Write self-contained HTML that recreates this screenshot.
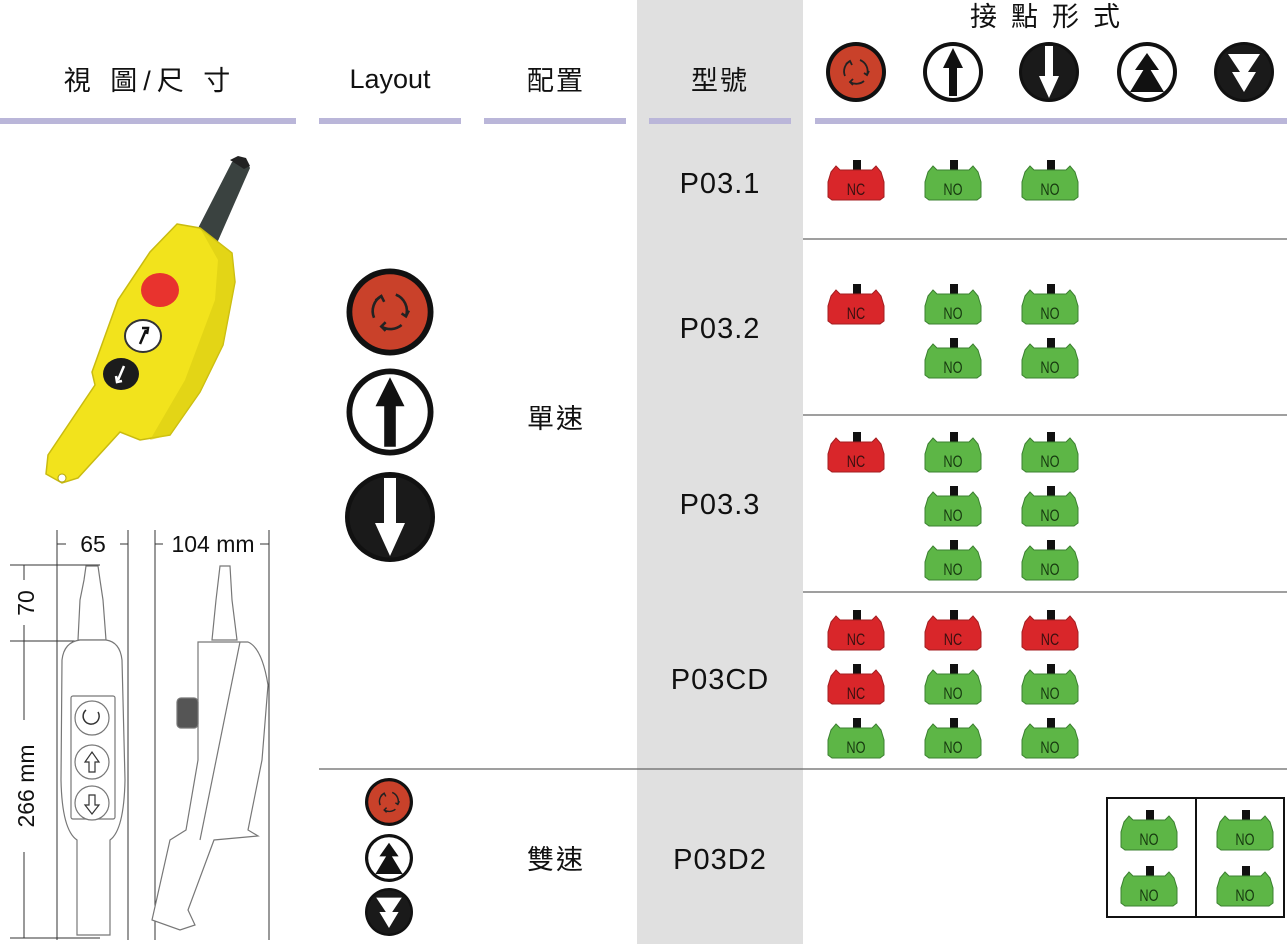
<!DOCTYPE html>
<html><head><meta charset="utf-8"><style>
html,body{margin:0;padding:0;background:#fff;}
svg{display:block;}
.t{font-family:"Liberation Sans","Noto Sans CJK TC",sans-serif;fill:#111;}
</style></head><body>
<svg width="1287" height="944" viewBox="0 0 1287 944" xmlns="http://www.w3.org/2000/svg">
<defs>
<g id="nc">
 <rect x="25" y="0" width="8" height="10" fill="#111"/>
 <path d="M3,12 L8,6 L12,10 L44,10 L48,6 L53,12 L56,22 L56,37 L52,40 L4,40 L0,37 L0,22 Z" fill="#d9262a" stroke="#a31d20" stroke-width="1"/>
 <text x="28" y="35" text-anchor="middle" font-family="Liberation Sans,sans-serif" font-size="17" fill="#3a1010" transform="translate(7 0) scale(0.75 1)">NC</text>
</g>
<g id="no">
 <rect x="25" y="0" width="8" height="10" fill="#111"/>
 <path d="M3,12 L8,6 L12,10 L44,10 L48,6 L53,12 L56,22 L56,37 L52,40 L4,40 L0,37 L0,22 Z" fill="#5db646" stroke="#3b8030" stroke-width="1"/>
 <text x="28" y="35" text-anchor="middle" font-family="Liberation Sans,sans-serif" font-size="17" fill="#173a10" transform="translate(7 0) scale(0.75 1)">NO</text>
</g>
<g id="ic-rot">
 <circle r="30" fill="#111"/><circle r="26" fill="#c9412a"/>
 <g stroke="#222" stroke-width="1.8" fill="none">
 <path d="M-6,-11 A12,12 0 0 0 -11,4"/><path d="M-10,-8 L-6,-11 L-4,-7"/>
 <path d="M4,-12 A12,12 0 0 1 11,3"/><path d="M8,1 L11,3 L13,-1"/>
 <path d="M8,9 A12,12 0 0 1 -6,10"/><path d="M-3,7 L-6,10 L-3,13"/>
 </g>
</g>
<g id="ic-up">
 <circle r="30" fill="#111"/><circle r="26" fill="#fff"/>
 <path d="M-4,24 L-4,-4 L-10,-4 L0,-24 L10,-4 L4,-4 L4,24 Z" fill="#111"/>
</g>
<g id="ic-dn">
 <circle r="30" fill="#111"/><circle r="27" fill="#1a1a1a"/>
 <path d="M-4,-26 L-4,4 L-10,4 L0,26 L10,4 L4,4 L4,-26 Z" fill="#fff"/>
</g>
<g id="ic-uu">
 <circle r="30" fill="#111"/><circle r="26" fill="#fff"/>
 <path d="M0,-19 L-12,-2 L12,-2 Z M0,-8 L-17,20 L17,20 Z" fill="#111"/>
</g>
<g id="ic-dd">
 <circle r="30" fill="#111"/><circle r="27" fill="#1a1a1a"/>
 <path d="M-16,-18 L16,-18 L0,6 Z M-12,0 L12,0 L0,20 Z" fill="#fff"/>
</g>
</defs>

<rect x="637" y="0" width="166" height="944" fill="#e0e0e0"/>

<g fill="#bab6d9">
<rect x="0" y="118" width="296" height="6"/>
<rect x="319" y="118" width="142" height="6"/>
<rect x="484" y="118" width="142" height="6"/>
<rect x="649" y="118" width="142" height="6"/>
<rect x="815" y="118" width="472" height="6"/>
</g>

<text class="t" x="150" y="90" text-anchor="middle" font-size="27" letter-spacing="6">視 圖/尺 寸</text>
<text class="t" x="390" y="88" text-anchor="middle" font-size="27">Layout</text>
<text class="t" x="556" y="90" text-anchor="middle" font-size="27" letter-spacing="2">配置</text>
<text class="t" x="720" y="90" text-anchor="middle" font-size="27" letter-spacing="2">型號</text>
<text class="t" x="1052" y="26" text-anchor="middle" font-size="27" letter-spacing="14">接點形式</text>

<use href="#ic-rot" x="856" y="72"/>
<use href="#ic-up" x="953" y="72"/>
<use href="#ic-dn" x="1049" y="72"/>
<use href="#ic-uu" x="1147" y="72"/>
<use href="#ic-dd" x="1244" y="72"/>

<g stroke="#666" stroke-width="1.3">
<line x1="803" y1="239" x2="1287" y2="239"/>
<line x1="803" y1="415" x2="1287" y2="415"/>
<line x1="803" y1="592" x2="1287" y2="592"/>
<line x1="319" y1="769" x2="1287" y2="769"/>
</g>

<g class="t" font-size="29" text-anchor="middle" letter-spacing="1">
<text x="720" y="193">P03.1</text>
<text x="720" y="338">P03.2</text>
<text x="720" y="514">P03.3</text>
<text x="720" y="689">P03CD</text>
<text x="720" y="869">P03D2</text>
</g>
<text class="t" x="556" y="428" text-anchor="middle" font-size="27" letter-spacing="2">單速</text>
<text class="t" x="556" y="869" text-anchor="middle" font-size="27" letter-spacing="2">雙速</text>

<g transform="translate(390 312) scale(1.45)"><use href="#ic-rot"/></g>
<g transform="translate(390 412) scale(1.45)"><use href="#ic-up"/></g>
<g transform="translate(390 517) scale(1.5)"><use href="#ic-dn"/></g>
<g transform="translate(389 802) scale(0.8)"><use href="#ic-rot"/></g>
<g transform="translate(389 858) scale(0.8)"><use href="#ic-uu"/></g>
<g transform="translate(389 912) scale(0.8)"><use href="#ic-dd"/></g>

<use href="#nc" x="828" y="160"/><use href="#no" x="925" y="160"/><use href="#no" x="1022" y="160"/>
<use href="#nc" x="828" y="284"/><use href="#no" x="925" y="284"/><use href="#no" x="1022" y="284"/>
<use href="#no" x="925" y="338"/><use href="#no" x="1022" y="338"/>
<use href="#nc" x="828" y="432"/><use href="#no" x="925" y="432"/><use href="#no" x="1022" y="432"/>
<use href="#no" x="925" y="486"/><use href="#no" x="1022" y="486"/>
<use href="#no" x="925" y="540"/><use href="#no" x="1022" y="540"/>
<use href="#nc" x="828" y="610"/><use href="#nc" x="925" y="610"/><use href="#nc" x="1022" y="610"/>
<use href="#nc" x="828" y="664"/><use href="#no" x="925" y="664"/><use href="#no" x="1022" y="664"/>
<use href="#no" x="828" y="718"/><use href="#no" x="925" y="718"/><use href="#no" x="1022" y="718"/>

<rect x="1107" y="798" width="177" height="119" fill="none" stroke="#111" stroke-width="2"/>
<line x1="1196" y1="798" x2="1196" y2="917" stroke="#111" stroke-width="2"/>
<use href="#no" x="1121" y="810"/><use href="#no" x="1217" y="810"/>
<use href="#no" x="1121" y="866"/><use href="#no" x="1217" y="866"/>

<path d="M193,238 L232,162 L246,160 L250,168 L214,250 Z" fill="#3a4240"/>
<path d="M230,160 l8,-4 l8,2 l4,8 l-6,3 Z" fill="#222"/>
<path d="M177,224 L200,228 L232,253 L235,282 L223,345 L200,392 L170,435 L140,440 L120,432 L78,478 L62,483 L46,474 L48,455 L95,385 L92,372 L118,300 L150,252 Z" fill="#f2e31c" stroke="#c9bb10" stroke-width="1.5"/>
<path d="M200,228 L232,253 L235,282 L223,345 L200,392 L170,435 L150,440 L185,380 L215,300 L218,260 Z" fill="#d9cc12" opacity="0.6"/>
<circle cx="62" cy="478" r="4" fill="#fff" stroke="#b0a410"/>
<ellipse cx="160" cy="290" rx="19" ry="17" fill="#e8332e"/>
<ellipse cx="143" cy="336" rx="18" ry="16" fill="#fff" stroke="#333" stroke-width="2"/>
<path d="M140,344 L146,330 M142,328 L148,328 L147,334" stroke="#111" stroke-width="2.5" fill="none"/>
<ellipse cx="121" cy="374" rx="18" ry="16" fill="#1c1c1c"/>
<path d="M124,366 L118,380 M116,376 L117,382 L122,381" stroke="#fff" stroke-width="2.5" fill="none"/>

<g stroke="#333" stroke-width="1" fill="none">
<line x1="57" y1="530" x2="57" y2="940"/><line x1="128" y1="530" x2="128" y2="940"/>
<line x1="155" y1="530" x2="155" y2="940"/><line x1="269" y1="530" x2="269" y2="940"/>
<line x1="57" y1="544" x2="66" y2="544"/><line x1="120" y1="544" x2="128" y2="544"/>
<line x1="155" y1="544" x2="163" y2="544"/><line x1="260" y1="544" x2="269" y2="544"/>
<line x1="10" y1="565" x2="100" y2="565"/><line x1="10" y1="641" x2="78" y2="641"/>
<line x1="10" y1="938" x2="100" y2="938"/>
<line x1="24" y1="565" x2="24" y2="580"/><line x1="24" y1="625" x2="24" y2="641"/>
<line x1="24" y1="641" x2="24" y2="720"/><line x1="24" y1="852" x2="24" y2="938"/>
</g>
<g class="t" font-size="23">
<text x="93" y="552" text-anchor="middle">65</text>
<text x="213" y="552" text-anchor="middle">104 mm</text>
<text transform="translate(34 603) rotate(-90)" text-anchor="middle">70</text>
<text transform="translate(34 786) rotate(-90)" text-anchor="middle">266 mm</text>
</g>
<g stroke="#777" stroke-width="1.2" fill="#fff">
<path d="M86,566 L98,566 L100,580 L103,600 L106,640 L78,640 L80,600 L84,580 Z"/>
<path d="M80,640 L106,640 Q120,642 122,660 L125,780 Q124,830 110,840 L110,935 L77,935 L77,840 Q62,830 61,780 L62,660 Q64,642 80,640 Z"/>
<rect x="71" y="696" width="44" height="123" rx="2"/>
<circle cx="92" cy="718" r="17"/><circle cx="92" cy="762" r="17"/><circle cx="92" cy="803" r="17"/>
</g>
<path d="M86,710 A8,8 0 1 0 98,712" stroke="#333" fill="none" stroke-width="1.5"/>
<path d="M89,772 L89,762 L85,762 L92,752 L99,762 L95,762 L95,772 Z M89,795 L89,805 L85,805 L92,814 L99,805 L95,805 L95,795 Z" stroke="#333" fill="none" stroke-width="1.2"/>
<g stroke="#777" stroke-width="1.2" fill="#fff">
<path d="M220,566 L230,566 L232,600 L237,640 L212,640 L216,600 Z"/>
<path d="M198,642 L248,642 Q262,648 268,685 L262,760 L248,830 L258,836 L214,840 L188,910 L195,925 L180,930 L152,920 L170,840 L186,830 L198,760 Z"/>
<rect x="177" y="698" width="21" height="30" rx="4" fill="#555"/>
<line x1="240" y1="642" x2="200" y2="840"/>
</g>
</svg>
</body></html>
